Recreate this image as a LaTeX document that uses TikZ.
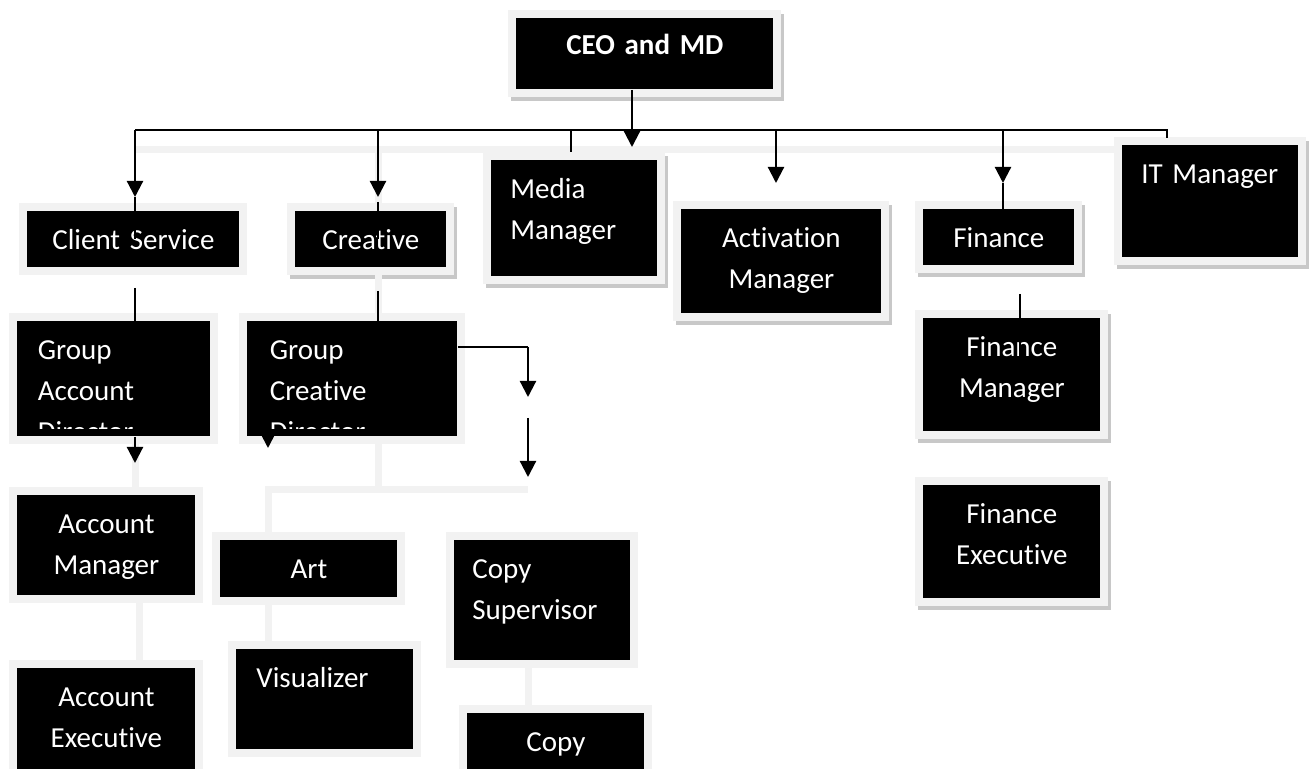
\documentclass[tikz,border=0pt]{standalone}
\usepackage{fontspec}
\setmainfont{Carlito}[Ligatures=NoCommon]
\usetikzlibrary{arrows.meta}
\definecolor{framegray}{RGB}{242,242,242}
\definecolor{shadowgray}{RGB}{200,200,200}

\begin{document}
\begin{tikzpicture}[x=0.5pt,y=-0.5pt,
  post/.style={fill=black, text=white, anchor=north west, inner ysep=0pt, text height=19pt,
    font=\fontsize{14.5}{20.5}\selectfont, preaction={draw=framegray, line width=8pt}},
  postshadow/.style={preaction={fill=shadowgray, draw=shadowgray, line width=8pt,
    transform canvas={shift={(1.5pt,-2pt)}}}, post},
  cutpost/.style 2 args={path picture={
    \clip (path picture bounding box.north west) rectangle ([yshift=4pt]path picture bounding box.south east);
    \node[anchor=base west, inner sep=0pt, text width=90pt, align=left, text=white,
      font=\fontsize{14.5}{20.5}\selectfont] at ([xshift=#1, yshift=-19pt]path picture bounding box.north west) {#2};}},
  link/.style={line width=1.1pt},
  arr/.style={link, -{Triangle[length=8pt,width=8pt]}},
  faint/.style={framegray, line width=3.5pt}]

\useasboundingbox (0,0) rectangle (1313,769);
\clip (0,0) rectangle (1313,769);

% top level and first row
\node[postshadow, text width=120.5pt, inner xsep=4pt, text height=18pt, text depth=17.5pt, align=center,
  font=\fontsize{14.5}{20}\selectfont\bfseries] (ceo) at (516,18) {CEO and MD};
\node[post, text width=98pt, inner xsep=4pt, text depth=9pt, align=center] (client) at (27,211) {Client Service};
\node[postshadow, text width=67.5pt, inner xsep=4pt, text depth=9pt, align=center] (creative) at (295,211) {Creative};
\node[postshadow, text width=64pt, inner xsep=9.5pt, text depth=39pt, align=left] (media) at (491,160) {Media\\Manager};
\node[postshadow, text width=92pt, inner xsep=4pt, text depth=33pt, align=center] (activation) at (681,209) {Activation\\Manager};
\node[postshadow, text width=67.5pt, inner xsep=4pt, text depth=9pt, align=center] (finance) at (923,209) {Finance};
\node[postshadow, text width=69pt, inner xsep=9.5pt, text depth=37pt, align=left] (itmgr) at (1122,145) {IT Manager};

% second row
\node[post, cutpost={10pt}{Group\\Account\\Director}, text width=76.5pt, inner xsep=10pt, text depth=38.5pt] (gad) at (17,321) {};
\node[post, cutpost={11pt}{Group\\Creative\\Director}, text width=83pt, inner xsep=11pt, text depth=38.5pt] (gcd) at (247,321) {};
\node[postshadow, text width=80.5pt, inner xsep=4pt, text depth=37.5pt, align=center] (finmgr) at (923,318) {Finance\\Manager};
\node[postshadow, text width=80.5pt, inner xsep=4pt, text depth=37.5pt, align=center] (finexec) at (923,485) {Finance\\Executive};

% lower rows
\node[post, text width=81pt, inner xsep=4pt, text depth=31pt, align=center] (accmgr) at (17,495) {Account\\Manager};
\node[post, text width=81pt, inner xsep=4pt, text depth=41pt, align=center] (accexec) at (17,668) {Account\\Executive};
\node[post, text width=80.5pt, inner xsep=4pt, text depth=9.5pt, align=center] (art) at (220,540) {Art};
\node[post, text width=68.5pt, inner xsep=10pt, text depth=31pt, align=left] (visual) at (236,649) {Visualizer};
\node[post, text width=70pt, inner xsep=9pt, text depth=41pt, align=left] (copysup) at (454,540) {Copy\\Supervisor};
\node[post, text width=80.5pt, inner xsep=4pt, text depth=21pt, align=center] (copy) at (467,713) {Copy};

% connector points
\coordinate (bus w) at (135,130);
\coordinate (bus e) at (1167,130);
\coordinate (shadow bus) at (0,150);
\coordinate (ceo tip) at (632,147);
\coordinate (client tip) at (135,197);
\coordinate (creative tip) at (378,197);
\coordinate (media stub) at (571,152);
\coordinate (act tip) at (776,183);
\coordinate (fin tip) at (1003,183);
\coordinate (finmgr stub) at (1020,294);
\coordinate (gad tip) at (135,463);
\coordinate (gcd tip) at (268,448);
\coordinate (copy bend) at (528,347);
\coordinate (copy tip a) at (528,397);
\coordinate (copy tip b) at (528,477);
\coordinate (branch) at (378,490);

% faint connectors
\draw[faint] (shadow bus -| client tip) -- (shadow bus -| itmgr.west);
\draw[faint] (shadow bus -| creative tip) -- (creative tip |- creative.north);
\draw[faint] (creative.south -| creative tip) -- (creative tip |- gcd.north);
\draw[faint] (gad.south -| gad tip) -- (gad tip |- accmgr.north);
\draw[faint] (gcd.south -| creative tip) -- (branch);
\draw[faint] (copy bend |- branch) -- (gcd tip |- branch) -- (gcd tip |- art.north);
\draw[faint] ([xshift=16.5pt]accmgr.south) -- ([xshift=16.5pt]accexec.north);
\draw[faint] (art.south -| gcd tip) -- (gcd tip |- visual.north);
\draw[faint] (copysup.south -| copy bend) -- (copy bend |- copy.north);

% black connectors
\draw[link] (bus w) -- (bus e) -- ++(0,8);
\draw[arr] (ceo.south -| ceo tip) -- (ceo tip);
\draw[arr] (bus w) -- (client tip);
\draw[link] (client tip) -- (client tip |- client.center);
\draw[arr] (bus w -| creative tip) -- (creative tip);
\draw[link] ([yshift=-2.5pt]creative tip) -- (creative tip |- creative.center);
\draw[link] (bus w -| media stub) -- (media stub);
\draw[arr] (bus w -| act tip) -- (act tip);
\draw[arr] (bus w -| fin tip) -- (fin tip);
\draw[link] (fin tip) -- (fin tip |- finance.north);
\draw[link] ([yshift=-10pt]client.south -| client tip) -- (client tip |- gad.north);
\draw[link] ([yshift=-11.5pt]creative.south -| creative tip) -- (creative tip |- gcd.north);
\draw[arr] (gad.south -| gad tip) -- (gad tip);
\draw[arr] ([yshift=-22pt]gcd.north -| gcd tip) -- (gcd tip);
\draw[link] (gcd.east |- copy bend) -- (copy bend);
\draw[arr] (copy bend) -- (copy tip a);
\draw[arr] ([yshift=-10.5pt]copy tip a) -- (copy tip b);
\draw[link] (finmgr stub) -- ([yshift=-19pt]finmgr.north -| finmgr stub);
\end{tikzpicture}
\end{document}
